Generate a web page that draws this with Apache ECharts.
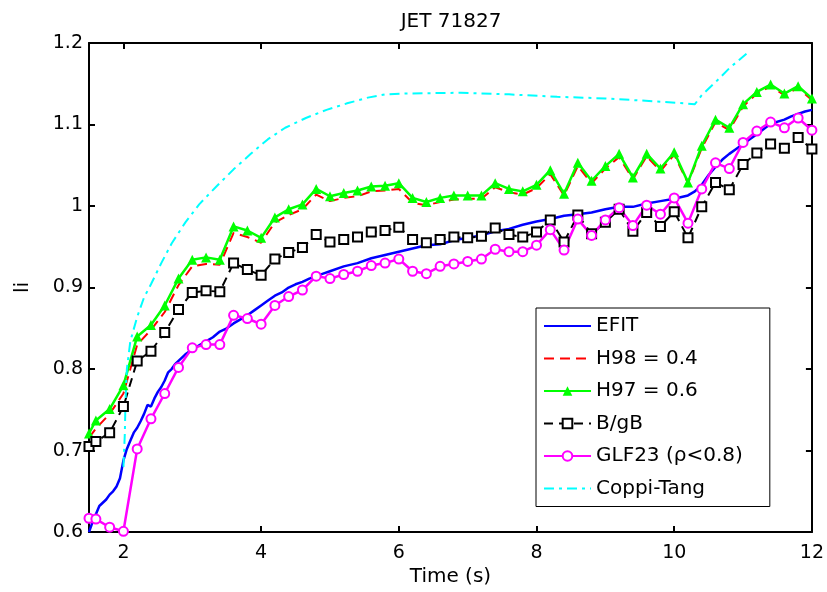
<!DOCTYPE html>
<html>
<head>
<meta charset="utf-8">
<title>JET 71827</title>
<script src="https://cdn.jsdelivr.net/npm/echarts@6/dist/echarts.min.js"></script>
<style>
  html, body { margin: 0; padding: 0; background: #fff; }
  #chart { width: 827px; height: 592px; }
</style>
</head>
<body>
<div id="chart"></div>
<script>
// simulation times (markers every 0.2 s)
const tSim = [1.5, 1.6, 1.8, 2.0, 2.2, 2.4, 2.6, 2.8, 3.0, 3.2, 3.4, 3.6, 3.8, 4.0, 4.2, 4.4, 4.6, 4.8,
  5.0, 5.2, 5.4, 5.6, 5.8, 6.0, 6.2, 6.4, 6.6, 6.8, 7.0, 7.2, 7.4, 7.6, 7.8, 8.0, 8.2, 8.4, 8.6, 8.8,
  9.0, 9.2, 9.4, 9.6, 9.8, 10.0, 10.2, 10.4, 10.6, 10.8, 11.0, 11.2, 11.4, 11.6, 11.8, 12.0];

const h98 = [0.716, 0.727, 0.745, 0.770, 0.830, 0.848, 0.870, 0.903, 0.926, 0.929, 0.928, 0.967, 0.962, 0.955,
  0.980, 0.989, 0.996, 1.014, 1.006, 1.010, 1.012, 1.018, 1.019, 1.021, 1.004, 1.001, 1.005, 1.008, 1.009,
  1.009, 1.023, 1.017, 1.014, 1.022, 1.039, 1.013, 1.049, 1.028, 1.046, 1.060, 1.033, 1.061, 1.043, 1.063,
  1.028, 1.071, 1.103, 1.093, 1.122, 1.138, 1.147, 1.136, 1.145, 1.130];

const h97 = [0.721, 0.737, 0.751, 0.780, 0.840, 0.854, 0.878, 0.911, 0.934, 0.937, 0.934, 0.975, 0.970, 0.961,
  0.986, 0.996, 1.002, 1.021, 1.012, 1.016, 1.019, 1.024, 1.025, 1.028, 1.010, 1.005, 1.010, 1.013, 1.013,
  1.013, 1.028, 1.021, 1.018, 1.026, 1.044, 1.015, 1.053, 1.031, 1.049, 1.064, 1.035, 1.064, 1.046, 1.066,
  1.029, 1.074, 1.106, 1.096, 1.125, 1.140, 1.149, 1.138, 1.147, 1.132];

const bgb = [0.705, 0.711, 0.722, 0.754, 0.810, 0.822, 0.845, 0.873, 0.894, 0.896, 0.895, 0.930, 0.922, 0.915,
  0.935, 0.943, 0.949, 0.965, 0.956, 0.959, 0.962, 0.968, 0.970, 0.974, 0.959, 0.955, 0.959, 0.962, 0.961,
  0.963, 0.973, 0.965, 0.962, 0.968, 0.983, 0.956, 0.989, 0.966, 0.980, 0.996, 0.969, 0.992, 0.975, 0.993,
  0.961, 0.999, 1.029, 1.020, 1.051, 1.065, 1.076, 1.071, 1.084, 1.070];

const glf23 = [0.617, 0.616, 0.606, 0.601, 0.702, 0.739, 0.770, 0.802, 0.826, 0.830, 0.830, 0.866, 0.862, 0.855,
  0.878, 0.889, 0.897, 0.914, 0.911, 0.916, 0.920, 0.927, 0.930, 0.935, 0.920, 0.917, 0.926, 0.929, 0.932,
  0.935, 0.947, 0.944, 0.944, 0.952, 0.971, 0.946, 0.984, 0.964, 0.983, 0.998, 0.976, 1.001, 0.990, 1.010,
  0.979, 1.021, 1.053, 1.046, 1.078, 1.092, 1.103, 1.096, 1.108, 1.093];

// EFIT reconstruction
const efitT = [1.50, 1.55, 1.60, 1.65, 1.70, 1.75, 1.80, 1.85, 1.90, 1.95, 2.00, 2.05, 2.10, 2.15, 2.20, 2.25,
  2.30, 2.35, 2.40, 2.45, 2.50, 2.55, 2.60, 2.65, 2.70, 2.75, 2.80, 2.90, 3.00, 3.10, 3.20, 3.30, 3.40, 3.50,
  3.60, 3.70, 3.80, 3.90, 4.00, 4.10, 4.20, 4.30, 4.40, 4.50, 4.60, 4.70, 4.80, 4.90, 5.00, 5.20, 5.40, 5.60,
  5.80, 6.00, 6.20, 6.40, 6.60, 6.80, 7.00, 7.20, 7.40, 7.60, 7.80, 8.00, 8.20, 8.40, 8.60, 8.80, 9.00, 9.20,
  9.40, 9.60, 9.80, 10.00, 10.20, 10.30, 10.40, 10.50, 10.60, 10.70, 10.80, 10.90, 11.00, 11.20, 11.40, 11.60,
  11.70, 11.80, 11.90, 12.00];
const efitLi = [0.600, 0.612, 0.622, 0.632, 0.636, 0.640, 0.646, 0.650, 0.656, 0.666, 0.688, 0.702, 0.712, 0.722,
  0.728, 0.736, 0.745, 0.756, 0.754, 0.764, 0.772, 0.778, 0.786, 0.796, 0.800, 0.806, 0.810, 0.818, 0.824,
  0.829, 0.834, 0.839, 0.846, 0.850, 0.856, 0.861, 0.866, 0.872, 0.878, 0.884, 0.890, 0.894, 0.900, 0.904,
  0.907, 0.911, 0.914, 0.917, 0.920, 0.926, 0.930, 0.936, 0.940, 0.944, 0.948, 0.952, 0.953, 0.958, 0.961,
  0.964, 0.969, 0.972, 0.977, 0.981, 0.984, 0.988, 0.990, 0.992, 0.996, 0.999, 0.999, 1.003, 1.006, 1.009,
  1.013, 1.018, 1.026, 1.038, 1.048, 1.057, 1.064, 1.070, 1.076, 1.088, 1.101, 1.106, 1.110, 1.113, 1.116, 1.118];

// Coppi-Tang model
const coppiT = [2.00, 2.02, 2.03, 2.05, 2.10, 2.20, 2.30, 2.40, 2.55, 2.70, 2.90, 3.10, 3.35, 3.60, 3.85, 4.10,
  4.35, 4.65, 4.95, 5.25, 5.55, 5.80, 6.10, 6.90, 7.60, 8.30, 9.00, 9.80, 10.30, 10.40, 10.60, 10.80, 11.05];
const coppiLi = [0.680, 0.720, 0.760, 0.800, 0.834, 0.864, 0.888, 0.904, 0.930, 0.954, 0.980, 1.002, 1.024,
  1.045, 1.064, 1.082, 1.096, 1.108, 1.118, 1.126, 1.133, 1.137, 1.138, 1.139, 1.137, 1.134, 1.132, 1.128,
  1.125, 1.136, 1.152, 1.169, 1.187];

const xTicks = [2, 4, 6, 8, 10, 12];

function pairs(ts, vs) {
  return ts.map((t, i) => [t, vs[i]]);
}

const FONT = 'DejaVu Sans';
const chart = echarts.init(document.getElementById('chart'));

const axisLine = { show: true, lineStyle: { color: '#000', width: 2 } };
const tickStyle = { show: true, inside: true, length: 6, lineStyle: { color: '#000', width: 2 } };
// plain line entries in the legend: hide the marker
const noMark = { opacity: 0 };

const option = {
  animation: false,
  backgroundColor: '#fff',
  title: {
    text: 'JET 71827',
    left: 446,
    top: 7,
    textAlign: 'center',
    textStyle: { fontFamily: FONT, fontSize: 20, fontWeight: 'normal', color: '#000' }
  },
  grid: { left: 89, right: 13, top: 43, bottom: 48, containLabel: false },
  legend: {
    orient: 'vertical',
    left: 536,
    top: 308,
    padding: [8, 27, 8, 7],
    itemWidth: 47,
    itemHeight: 12,
    itemGap: 12.5,
    backgroundColor: '#fff',
    borderColor: '#000',
    borderWidth: 1,
    textStyle: { fontFamily: FONT, fontSize: 20, color: '#000' },
    data: [
      { name: 'EFIT', itemStyle: noMark },
      { name: 'H98 = 0.4', itemStyle: noMark },
      'H97 = 0.6',
      'B/gB',
      'GLF23 (ρ<0.8)',
      { name: 'Coppi-Tang', itemStyle: noMark }
    ]
  },
  xAxis: [
    {
      type: 'value', position: 'bottom', min: 1.5, max: 12,
      name: 'Time (s)', nameLocation: 'middle', nameGap: 32,
      nameTextStyle: { fontFamily: FONT, fontSize: 20, color: '#000' },
      axisLine: axisLine,
      axisTick: Object.assign({ customValues: xTicks }, tickStyle),
      axisLabel: { customValues: xTicks, margin: 11, fontFamily: FONT, fontSize: 19, color: '#000' },
      splitLine: { show: false }
    },
    {
      type: 'value', position: 'top', min: 1.5, max: 12,
      axisLine: axisLine,
      axisTick: Object.assign({ customValues: xTicks }, tickStyle),
      axisLabel: { show: false },
      splitLine: { show: false }
    }
  ],
  yAxis: [
    {
      type: 'value', position: 'left', min: 0.6, max: 1.2, interval: 0.1,
      name: 'li', nameLocation: 'middle', nameGap: 56,
      nameTextStyle: { fontFamily: FONT, fontSize: 20, color: '#000' },
      axisLine: axisLine,
      axisTick: tickStyle,
      axisLabel: {
        margin: 6, fontFamily: FONT, fontSize: 19, color: '#000',
        formatter: v => String(+v.toFixed(1))
      },
      splitLine: { show: false }
    },
    {
      type: 'value', position: 'right', min: 0.6, max: 1.2, interval: 0.1,
      axisLine: axisLine,
      axisTick: tickStyle,
      axisLabel: { show: false },
      splitLine: { show: false }
    }
  ],
  series: [
    {
      name: 'EFIT', type: 'line', data: pairs(efitT, efitLi),
      showSymbol: false, symbol: 'none',
      lineStyle: { color: '#0000ff', width: 2.5 }, itemStyle: { color: '#0000ff' }
    },
    {
      name: 'H98 = 0.4', type: 'line', data: pairs(tSim, h98),
      showSymbol: false, symbol: 'none',
      lineStyle: { color: '#ff0000', width: 2, type: [10, 6] }, itemStyle: { color: '#ff0000' }
    },
    {
      name: 'H97 = 0.6', type: 'line', data: pairs(tSim, h97),
      symbol: 'triangle', symbolSize: 10,
      lineStyle: { color: '#00ff00', width: 2.5 }, itemStyle: { color: '#00ff00' }
    },
    {
      name: 'B/gB', type: 'line', data: pairs(tSim, bgb),
      symbol: 'emptyRect', symbolSize: 9,
      lineStyle: { color: '#000', width: 2, type: [9, 6] },
      itemStyle: { color: '#000', borderColor: '#000', borderWidth: 2 }
    },
    {
      name: 'GLF23 (ρ<0.8)', type: 'line', data: pairs(tSim, glf23),
      symbol: 'emptyCircle', symbolSize: 9,
      lineStyle: { color: '#ff00ff', width: 2.5 },
      itemStyle: { color: '#ff00ff', borderColor: '#ff00ff', borderWidth: 2 }
    },
    {
      name: 'Coppi-Tang', type: 'line', data: pairs(coppiT, coppiLi),
      showSymbol: false, symbol: 'none',
      lineStyle: { color: '#00ffff', width: 2, type: [10, 5, 3, 5] }, itemStyle: { color: '#00ffff' }
    }
  ]
};

chart.setOption(option);
</script>
</body>
</html>
